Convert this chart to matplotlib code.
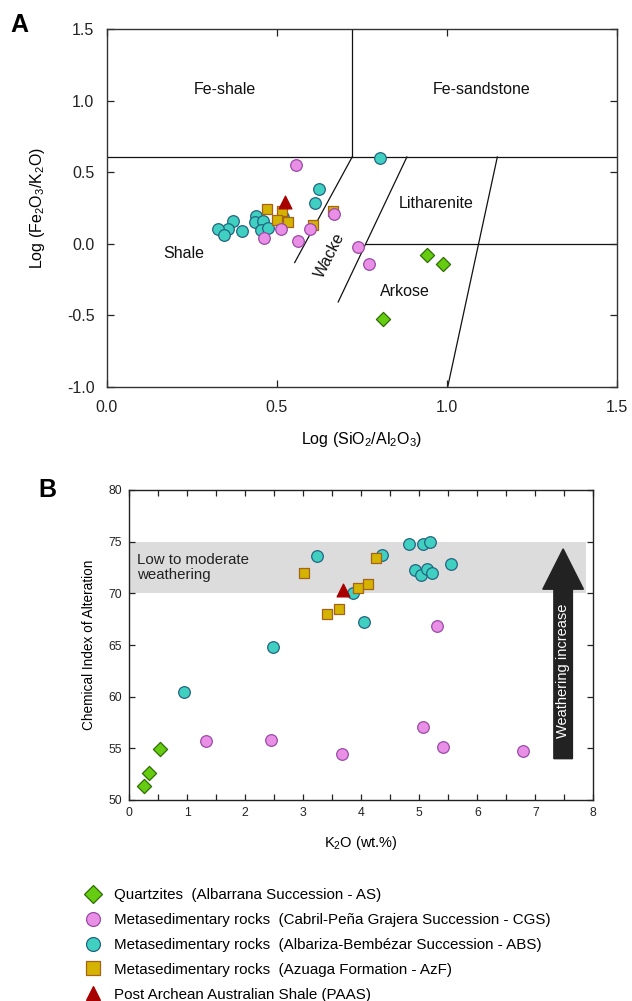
import matplotlib
matplotlib.use("Agg")
import matplotlib.pyplot as plt
from matplotlib.lines import Line2D

plt.rcParams['font.family'] = ['Liberation Sans', 'DejaVu Sans']
plt.rcParams['mathtext.fontset'] = 'custom'
plt.rcParams['mathtext.rm'] = 'Liberation Sans'
plt.rcParams['mathtext.it'] = 'Liberation Sans'

# ---------------- Panel A data (Herron 1988 diagram) ----------------
as_logsi = [0.811, 0.942, 0.987]
as_logfe = [-0.522, -0.075, -0.138]

cgs_logsi = [0.557, 0.669, 0.512, 0.598, 0.462, 0.561, 0.739, 0.770]
cgs_logfe = [0.548, 0.205, 0.103, 0.103, 0.040, 0.021, -0.021, -0.142]

abs_logsi = [0.802, 0.624, 0.612, 0.519, 0.438, 0.436, 0.460, 0.454, 0.473,
             0.371, 0.396, 0.356, 0.325, 0.344]
abs_logfe = [0.597, 0.380, 0.287, 0.184, 0.196, 0.154, 0.159, 0.096, 0.110,
             0.159, 0.089, 0.100, 0.100, 0.061]

azf_logsi = [0.470, 0.515, 0.501, 0.533, 0.606, 0.664]
azf_logfe = [0.242, 0.228, 0.163, 0.154, 0.131, 0.226]

paas_logsi = [0.523]
paas_logfe = [0.294]

# classification boundaries (x0, y0, x1, y1)
boundaries = [
    (0.0, 0.606, 1.5, 0.606),
    (0.721, 1.5, 0.721, 0.606),
    (0.721, 0.606, 0.552, -0.131),
    (0.882, 0.606, 0.680, -0.406),
    (1.148, 0.606, 1.002, -1.0),
    (0.761, 0.0, 1.5, 0.0),
]
field_names = ["Fe-shale", "Fe-sandstone", "Litharenite", "Shale", "Wacke", "Arkose"]
field_pos = [(0.346, 1.08), (1.102, 1.08), (0.969, 0.28), (0.227, -0.07),
             (0.655, -0.08), (0.876, -0.33)]
field_rot = [0, 0, 0, 0, 63, 0]

# ---------------- Panel B data (CIA vs K2O) ----------------
as_k2o = [0.26, 0.34, 0.53]
as_cia = [51.4, 52.6, 54.9]

cgs_k2o = [1.32, 2.44, 3.66, 5.07, 5.40, 6.78, 5.30]
cgs_cia = [55.7, 55.85, 54.5, 57.1, 55.1, 54.7, 66.8]

abs_k2o = [0.94, 2.48, 3.24, 4.35, 3.86, 4.04, 4.83, 5.06, 5.18, 4.92, 5.03,
           5.14, 5.22, 5.55]
abs_cia = [60.5, 64.8, 73.6, 73.7, 70.05, 67.25, 74.8, 74.75, 74.95, 72.27,
           71.76, 72.37, 72.0, 72.85]

azf_k2o = [3.01, 3.41, 3.62, 3.95, 4.11, 4.26]
azf_cia = [71.95, 68.0, 68.5, 70.55, 70.9, 73.4]

paas_k2o = [3.69]
paas_cia = [70.3]

legend_labels = [
    "Quartzites  (Albarrana Succession - AS)",
    "Metasedimentary rocks  (Cabril-Peña Grajera Succession - CGS)",
    "Metasedimentary rocks  (Albariza-Bembézar Succession - ABS)",
    "Metasedimentary rocks  (Azuaga Formation - AzF)",
    "Post Archean Australian Shale (PAAS)",
]

# styles
sty = {
    'as': dict(marker='D', facecolor='#66cc11', edgecolor='#2d6e00'),
    'cgs': dict(marker='o', facecolor='#ea8fe6', edgecolor='#9a4aa8'),
    'abs': dict(marker='o', facecolor='#3fd0c2', edgecolor='#236480'),
    'azf': dict(marker='s', facecolor='#d4b400', edgecolor='#a5621a'),
    'paas': dict(marker='^', facecolor='#a80000', edgecolor='#a80000'),
}
sizes = {'as': 52, 'cgs': 70, 'abs': 70, 'azf': 62, 'paas': 85}

W, H = 632, 1001
fig = plt.figure(figsize=(W / 100, H / 100), dpi=100)

def frac(l, t, r, b):
    return [l / W, 1 - b / H, (r - l) / W, (b - t) / H]

# ---------------- Panel A ----------------
axA = fig.add_axes(frac(107, 29, 617, 387))
axA.set_xlim(0, 1.5)
axA.set_ylim(-1.0, 1.5)
for (x0, y0, x1, y1) in boundaries:
    axA.plot([x0, x1], [y0, y1], color='#111111', lw=0.9, zorder=1)
for name, (px, py), rot in zip(field_names, field_pos, field_rot):
    axA.text(px, py, name, ha='center', va='center', fontsize=11.5,
             rotation=rot, color='#111111')

def scat(ax, x, y, key):
    ax.scatter(x, y, s=sizes[key], marker=sty[key]['marker'],
               facecolor=sty[key]['facecolor'], edgecolor=sty[key]['edgecolor'],
               linewidths=0.9, zorder=3)

scat(axA, as_logsi, as_logfe, 'as')
scat(axA, abs_logsi, abs_logfe, 'abs')
scat(axA, azf_logsi, azf_logfe, 'azf')
scat(axA, cgs_logsi, cgs_logfe, 'cgs')
scat(axA, paas_logsi, paas_logfe, 'paas')

axA.set_xticks([0, 0.5, 1.0, 1.5])
axA.set_xticklabels(["0.0", "0.5", "1.0", "1.5"])
axA.set_yticks([-1.0, -0.5, 0.0, 0.5, 1.0, 1.5])
axA.set_yticklabels(["-1.0", "-0.5", "0.0", "0.5", "1.0", "1.5"])
axA.tick_params(direction='in', top=True, right=True, length=5, width=0.9,
                labelsize=11.5, colors='#222222', pad=9)
for sp in axA.spines.values():
    sp.set_linewidth(1.0)
    sp.set_color('#333333')
axA.set_xlabel(r"Log (SiO$_2$/Al$_2$O$_3$)", fontsize=11.5, labelpad=11)
axA.set_ylabel(r"Log (Fe$_2$O$_3$/K$_2$O)", fontsize=11.5, labelpad=14)

# ---------------- Panel B ----------------
axB = fig.add_axes(frac(129.3, 490, 593.3, 800))
axB.set_xlim(0, 8)
axB.set_ylim(50, 80)
axB.axhspan(70, 75, xmin=0, xmax=7.88 / 8, color='#dcdcdc', lw=0, zorder=0)
axB.text(0.13, 72.5, "Low to moderate\nweathering", ha='left', va='center',
         fontsize=10.8, color='#222222', linespacing=1.05)

axB.arrow(7.48, 54.0, 0, 20.3, width=0.32, head_width=0.70, head_length=3.9,
          length_includes_head=True, color='#222222', zorder=2)
axB.text(7.48, 62.5, "Weathering increase", rotation=90, ha='center',
         va='center', color='white', fontsize=10.5, zorder=3)

scat(axB, as_k2o, as_cia, 'as')
scat(axB, cgs_k2o, cgs_cia, 'cgs')
scat(axB, abs_k2o, abs_cia, 'abs')
scat(axB, azf_k2o, azf_cia, 'azf')
scat(axB, paas_k2o, paas_cia, 'paas')

axB.set_xticks(range(0, 9))
axB.set_xticks([i + 0.5 for i in range(8)], minor=True)
axB.set_yticks([50, 55, 60, 65, 70, 75, 80])
axB.tick_params(which='both', direction='in', top=True, right=True, length=4,
                width=0.9, labelsize=8.8, colors='#222222', pad=5)
for sp in axB.spines.values():
    sp.set_linewidth(1.0)
    sp.set_color('#222222')
axB.set_xlabel(r"K$_2$O (wt.%)", fontsize=10.5, labelpad=11)
axB.set_ylabel("Chemical Index of Alteration", fontsize=9.8, labelpad=9)

# panel letters
fig.text(10 / W, 1 - 25 / H, "A", fontsize=18, fontweight='bold', va='center')
fig.text(38 / W, 1 - 490 / H, "B", fontsize=18, fontweight='bold', va='center')

# ---------------- Legend ----------------
handles = []
for key in ['as', 'cgs', 'abs', 'azf', 'paas']:
    handles.append(Line2D([], [], linestyle='none', marker=sty[key]['marker'],
                          markerfacecolor=sty[key]['facecolor'],
                          markeredgecolor=sty[key]['edgecolor'],
                          markersize=10 if key != 'as' else 9,
                          markeredgewidth=0.9))
fig.legend(handles, legend_labels, loc='upper left',
           bbox_to_anchor=(84 / W, 1 - 888 / H), frameon=False, fontsize=10.9,
           labelspacing=0.72, handletextpad=0.8, handlelength=1.2,
           borderaxespad=0, borderpad=0)

fig.savefig("out.png", dpi=100)
